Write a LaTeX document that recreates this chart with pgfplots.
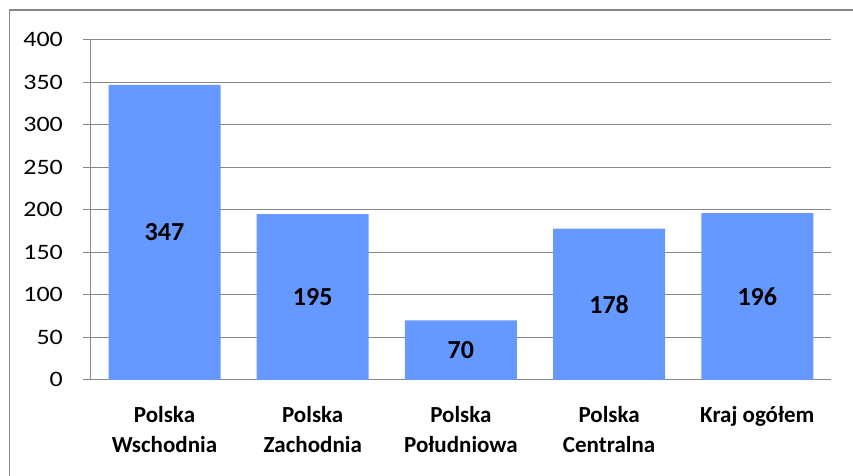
\documentclass[border=0pt]{standalone}
\usepackage{pgfplots}
\pgfplotsset{compat=1.18}
\usepackage{fontspec}
\setmainfont{Carlito}
\newfontfamily\tickfont{Carlito}[FakeStretch=1.18]
\definecolor{barblue}{HTML}{6699FF}
\definecolor{gridgray}{HTML}{868686}

\begin{document}
\begin{tikzpicture}[x=1pt,y=1pt]
  \useasboundingbox (0,0) rectangle (853,475);
  \draw[gridgray, line width=1.3pt] (9.5,-10) -- (9.5,465) -- (870,465);
  \begin{axis}[
    name=main,
    at={(61,112)}, anchor=south west,
    width=741pt, height=340pt,
    scale only axis,
    xmin=-0.5, xmax=4.5,
    ymin=0, ymax=400,
    ytick={0,50,...,400},
    xtick={0,1,2,3,4},
    xticklabels={Polska\\Wschodnia, Polska\\Zachodnia, Polska\\Południowa, Polska\\Centralna, Kraj ogółem},
    x tick label style={font=\fontsize{23}{30}\selectfont\bfseries, align=center, anchor=north, yshift=-16pt},
    y tick label style={font=\fontsize{22}{26}\selectfont\tickfont, xshift=-17pt},
    /pgf/number format/assume math mode=true,
    axis x line=bottom, axis y line=left,
    axis line style={gridgray, line width=1.3pt, -},
    ymajorgrids, grid style={gridgray, line width=1.3pt},
    major tick length=7pt,
    tick style={gridgray, line width=1.3pt},
    xtick style={draw=none},
    tick align=outside,
    extra x ticks={-0.5,0.5,1.5,2.5,3.5,4.5},
    extra x tick labels={},
    extra x tick style={tick style={draw=gridgray, line width=1.3pt}, xticklabel=\empty, grid=none},
    clip=false,
  ]
    \addplot[ybar, bar width=112pt, fill=barblue, draw=none] coordinates {
      (0,347) (1,195) (2,70) (3,178) (4,196)
    };
    \addplot[draw=none, mark=none, nodes near coords, point meta=explicit symbolic,
      every node near coord/.append style={anchor=center, font=\fontsize{26}{28}\selectfont\bfseries}]
      coordinates {
      (0,173.5) [347] (1,97.5) [195] (2,35) [70] (3,89) [178] (4,98) [196]
    };
  \end{axis}
\end{tikzpicture}
\end{document}
